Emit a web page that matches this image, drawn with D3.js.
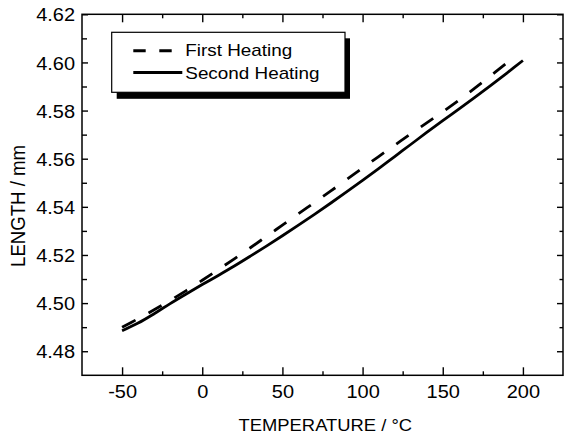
<!DOCTYPE html>
<html><head><meta charset="utf-8">
<script src="https://cdn.jsdelivr.net/npm/d3@7"></script>
<style>body{margin:0;background:#fff}svg{display:block;font-family:"Liberation Sans",Arial,sans-serif}</style>
</head><body><svg id="c" width="564" height="434"></svg>
<script>
const firstTemps = [-50,-40,-30,-20,-10,0,10,20,30,40,50,60,70,80,90,100,110,120,130,140,150,160,170,180,190,195];
const firstLength = [4.4900,4.4935,4.4972,4.5011,4.5052,4.5095,4.5139,4.5184,4.5230,4.5277,4.5324,4.5371,4.5418,4.5465,4.5513,4.5561,4.5609,4.5656,4.5703,4.5749,4.5795,4.5843,4.5893,4.5945,4.5998,4.6024];
const secondTemps = [-50,-40,-30,-20,-10,0,10,20,30,40,50,60,70,80,90,100,110,120,130,140,150,160,170,180,190,200];
const secondLength = [4.4885,4.4917,4.4956,4.4998,4.5038,4.5077,4.5115,4.5154,4.5195,4.5237,4.5280,4.5324,4.5369,4.5415,4.5462,4.5510,4.5559,4.5609,4.5659,4.5709,4.5758,4.5806,4.5855,4.5905,4.5956,4.6008];
const xTicks = [-50,0,50,100,150,200];
const xMinor = [-25,25,75,125,175];
const yTicks = [4.48,4.50,4.52,4.54,4.56,4.58,4.60,4.62];
const yMinor = [4.49,4.51,4.53,4.55,4.57,4.59,4.61];
const seriesNames = ["First Heating","Second Heating"];
const xTitle = "TEMPERATURE / °C";
const yTitle = "LENGTH / mm";

const svg = d3.select("#c");
const L = 82, R = 563, T = 14.3, B = 375.3;
const x = d3.scaleLinear().domain([-75,225]).range([L,R]);
const y = d3.scaleLinear().domain([4.47,4.62]).range([B,T]);

function styleAxis(g){
  g.select(".domain").remove();
  g.selectAll("line").attr("stroke","#000").attr("stroke-width",1.4);
  g.selectAll("text").attr("fill","#000").attr("font-size",18.5)
   .attr("font-family",'"Liberation Sans",Arial,sans-serif');
}
// bottom
svg.append("g").attr("transform",`translate(0,${B})`)
  .call(d3.axisBottom(x).tickValues(xTicks).tickSizeInner(-8).tickSizeOuter(0).tickPadding(9.8).tickFormat(d=>String(d)))
  .call(styleAxis).call(g=>g.selectAll("text").attr("transform","scale(1.08,1)"));
svg.append("g").attr("transform",`translate(0,${B})`)
  .call(d3.axisBottom(x).tickValues(xMinor).tickSizeInner(-4).tickSizeOuter(0).tickFormat(""))
  .call(styleAxis);
// top
svg.append("g").attr("transform",`translate(0,${T})`)
  .call(d3.axisTop(x).tickValues(xTicks).tickSizeInner(-8).tickSizeOuter(0).tickFormat(""))
  .call(styleAxis);
svg.append("g").attr("transform",`translate(0,${T})`)
  .call(d3.axisTop(x).tickValues(xMinor).tickSizeInner(-4).tickSizeOuter(0).tickFormat(""))
  .call(styleAxis);
// left
svg.append("g").attr("transform",`translate(${L},0)`)
  .call(d3.axisLeft(y).tickValues(yTicks).tickSizeInner(-6).tickSizeOuter(0).tickPadding(6.4).tickFormat(d3.format(".2f")))
  .call(styleAxis).call(g=>g.selectAll("text").attr("dy","0.36em").attr("transform","scale(1.08,1)"));
svg.append("g").attr("transform",`translate(${L},0)`)
  .call(d3.axisLeft(y).tickValues(yMinor).tickSizeInner(-5).tickSizeOuter(0).tickFormat(""))
  .call(styleAxis);
// right
svg.append("g").attr("transform",`translate(${R},0)`)
  .call(d3.axisRight(y).tickValues(yTicks).tickSizeInner(-6).tickSizeOuter(0).tickFormat(""))
  .call(styleAxis);
svg.append("g").attr("transform",`translate(${R},0)`)
  .call(d3.axisRight(y).tickValues(yMinor).tickSizeInner(-3.5).tickSizeOuter(0).tickFormat(""))
  .call(styleAxis);

// curves
const line = d3.line().x(d=>x(d[0])).y(d=>y(d[1])).curve(d3.curveCatmullRom);
svg.append("path").datum(firstTemps.map((t,i)=>[t,firstLength[i]]))
  .attr("d",line).attr("fill","none").attr("stroke","#000").attr("stroke-width",2.8)
  .attr("stroke-dasharray","15,15");
svg.append("path").datum(secondTemps.map((t,i)=>[t,secondLength[i]]))
  .attr("d",line).attr("fill","none").attr("stroke","#000").attr("stroke-width",2.8);

// frame
svg.append("rect").attr("x",L).attr("y",T).attr("width",R-L).attr("height",B-T)
  .attr("fill","none").attr("stroke","#000").attr("stroke-width",1.5);

// legend
const lg = svg.append("g");
lg.append("rect").attr("x",116.7).attr("y",38.3).attr("width",233.3).attr("height",60.5).attr("fill","#000");
lg.append("rect").attr("x",111.7).attr("y",32.3).attr("width",233.3).attr("height",60)
  .attr("fill","#fff").attr("stroke","#000").attr("stroke-width",1.2);
lg.append("line").attr("x1",133.3).attr("x2",171.7).attr("y1",50.7).attr("y2",50.7)
  .attr("stroke","#000").attr("stroke-width",3).attr("stroke-dasharray","12.4,13.6");
lg.append("line").attr("x1",133.3).attr("x2",182.3).attr("y1",72.5).attr("y2",72.5)
  .attr("stroke","#000").attr("stroke-width",3);
[[seriesNames[0],56.3],[seriesNames[1],78.8]].forEach(([t,yy])=>{
  lg.append("text").attr("transform",`translate(185.3,${yy}) scale(1.18,1)`)
    .attr("font-size",16).attr("fill","#000").text(t);
});

// titles
svg.append("text").attr("transform","translate(325.3,430.6) scale(1.15,1)")
  .attr("text-anchor","middle").attr("font-size",16).attr("fill","#000").text(xTitle);
svg.append("text").attr("transform","translate(25,206) scale(1.1,1) rotate(-90)")
  .attr("text-anchor","middle").attr("font-size",18.6).attr("fill","#000").text(yTitle);
</script></body></html>
